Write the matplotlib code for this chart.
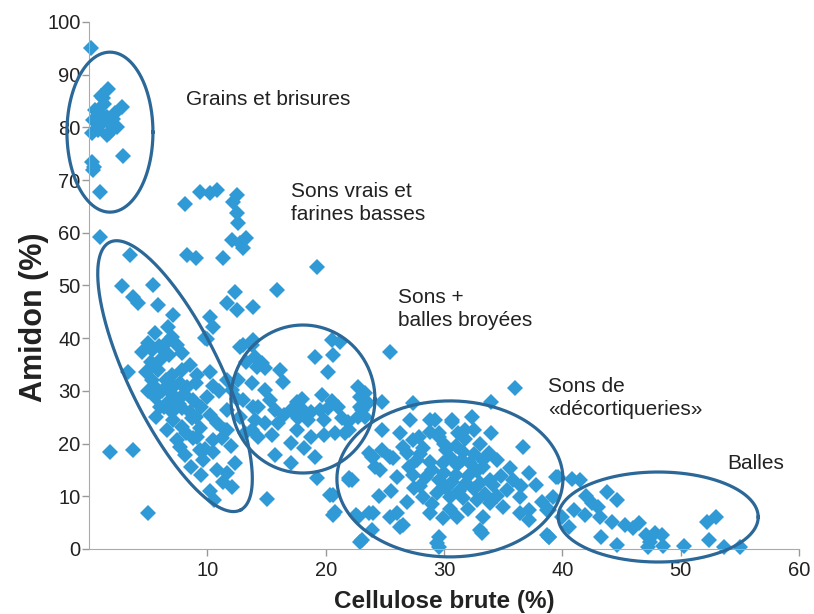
import numpy as np
import matplotlib
matplotlib.use("Agg")
import matplotlib.pyplot as plt

plt.rcParams['font.family'] = ['Liberation Sans', 'DejaVu Sans']

# --- data (cellulose %, amidon %) ---
grains_x = [0.2, 1.6, 1.2, 2.8, 0.5, 0.9, 1.5, 0.3, 1.1, 1.9, 2.4, 0.25, 1.5, 2.9, 0.25, 0.3, 0.9,
            1.3, 0.8, 2.0, 1.7, 0.4, 1.0, 2.2]
grains_y = [95.0, 87.3, 85.6, 83.9, 83.3, 82.7, 82.0, 81.4, 80.8, 80.5, 80.1, 78.9, 78.6, 74.6, 73.4, 71.9, 67.7,
            84.5, 79.5, 81.5, 79.0, 72.5, 86.0, 82.8]

scatter_x = [8.1, 9.4, 10.2, 10.8, 12.5, 12.2, 12.5, 12.6, 0.9, 12.1, 12.8, 13.3, 13.0, 3.5, 8.3, 9.0, 11.3,
             2.8, 5.4, 3.7, 4.1, 5.8, 12.3, 11.7, 12.5, 13.9, 7.1, 10.2, 10.5, 6.7, 9.8, 15.9, 19.3, 25.4]
scatter_y = [65.5, 67.7, 67.5, 68.1, 67.2, 65.8, 63.8, 61.9, 59.2, 58.6, 58.1, 59.0, 57.1, 55.8, 55.8, 55.2, 55.2,
             49.9, 50.1, 47.8, 46.7, 46.3, 48.8, 46.7, 45.4, 45.9, 44.4, 44.0, 42.1, 42.1, 40.0, 49.1, 53.5, 37.4]

sons_x = [10.0, 5.6, 4.5, 5.3, 6.2, 7.4, 7.9, 6.8, 6.0, 5.2, 3.3, 5.8, 7.0, 7.9, 9.1, 5.3, 7.7, 6.6, 8.3,
          5.6, 7.1, 8.8, 10.0, 6.3, 7.9, 10.2, 5.7, 7.1, 8.7, 6.6, 7.9, 9.4, 11.5, 7.4, 9.1, 10.5, 7.7,
          9.4, 8.1, 9.6, 1.8, 3.7, 10.8, 11.7, 12.3, 9.5, 12.1, 10.6, 5.0, 15.0,
          6.5, 7.2, 8.0, 6.8, 7.6, 8.5, 9.0, 6.2, 5.5, 9.5, 8.2, 8.8, 6.0, 7.0, 9.8, 10.5, 5.9, 6.6,
          7.0, 5.0, 4.8, 5.0, 10.8, 11.2, 12.0, 8.5, 9.0, 10.5, 11.0, 10.2,
          11.7, 12.1, 11.7, 11.7, 12.8, 13.8, 13.3, 14.2, 12.6, 13.0, 13.9, 13.8,
          11.3, 10.2, 8.6, 12.8, 12.5]
sons_y = [39.8, 41.0, 37.4, 37.8, 38.1, 38.7, 37.2, 36.8, 35.9, 35.5, 33.6, 34.0, 33.0, 34.0, 33.0, 32.1,
          31.5, 30.6, 30.7, 28.8, 29.2, 28.3, 28.8, 26.9, 26.8, 25.4, 25.0, 24.5, 24.9, 22.6, 23.1, 23.0,
          22.6, 20.7, 21.3, 20.7, 19.4, 18.8, 17.8, 16.9, 18.4, 18.8, 15.0, 14.4, 16.3, 14.0, 11.8, 9.3,
          6.8, 9.5,
          32.0, 31.0, 29.5, 28.0, 27.5, 26.0, 25.0, 30.0, 31.0, 27.0, 22.0, 21.0, 27.0, 26.0, 19.0, 18.5,
          38.5, 39.3, 40.2, 39.0, 33.5, 30.0, 24.0, 21.0, 19.5, 35.0, 31.5, 31.0, 30.0, 33.5,
          32.1, 30.2, 26.4, 22.6, 38.3, 38.7, 35.5, 34.5, 32.1, 28.3, 26.9, 22.6,
          12.8, 11.0, 15.5, 25.0, 28.5]

broyees_x = [13.0, 13.9, 14.0, 14.6, 14.9, 13.8, 16.1, 16.4, 19.1, 20.6, 20.2, 20.5, 21.2, 14.9, 15.3,
             14.3, 15.7, 14.0, 14.9, 16.0, 19.7, 17.6, 17.1, 18.1, 18.8, 19.5, 20.2, 21.0, 17.7, 18.5,
             19.9, 21.4, 21.9, 22.7, 23.3, 22.9, 23.6, 22.7, 23.3, 17.6, 18.8, 19.9, 20.8, 21.6, 17.1,
             18.2, 19.1, 15.7, 17.1, 15.5, 14.3, 13.2, 23.9, 24.2, 19.3, 20.4, 20.8, 22.2, 16.5, 18.0,
             20.5, 22.0]
broyees_y = [38.7, 39.7, 36.4, 35.3, 34.3, 31.5, 34.0, 31.7, 36.4, 36.8, 33.6, 39.7, 39.3, 30.2, 28.3,
             26.9, 26.4, 24.5, 23.9, 23.9, 29.2, 27.9, 26.4, 26.4, 26.0, 26.4, 26.8, 26.9, 24.9, 24.5,
             24.5, 24.9, 24.1, 30.7, 29.6, 26.9, 27.7, 25.0, 25.0, 22.6, 21.3, 21.6, 22.0, 22.0, 20.1,
             19.2, 17.5, 17.8, 16.3, 21.6, 21.3, 22.0, 17.5, 15.6, 13.5, 10.2, 7.0, 13.1, 25.5, 28.5,
             28.0, 22.5]

decort_x = [36.0, 34.0, 32.4, 36.7, 29.2, 30.7, 28.8, 31.2, 29.6, 27.4, 26.5, 28.2, 30.2, 31.6, 24.8,
            24.0, 25.7, 27.7, 28.8, 29.9, 31.1, 32.2, 33.3, 34.5, 35.6, 37.2, 37.8, 39.5, 22.0, 24.6,
            26.0, 27.4, 28.5, 29.6, 30.7, 31.9, 33.0, 34.1, 35.3, 36.4, 38.3, 38.9, 37.2, 26.9, 28.2,
            29.4, 30.5, 31.6, 32.8, 33.9, 35.0, 26.0, 23.7, 22.6, 28.8, 29.9, 31.1, 33.3, 26.5, 29.6,
            29.4, 33.2, 22.9, 38.7, 20.6, 20.6,
            22.9, 23.1, 24.8, 27.4, 27.1, 28.8, 26.3, 27.9, 29.6, 24.8, 23.7, 25.4, 26.9, 22.0, 30.7,
            31.8, 33.3, 33.9, 36.4, 37.2, 38.9, 33.0, 40.0, 22.7, 24.0, 25.4, 26.3, 23.9, 23.1, 29.6,
            30.0, 31.0, 32.0, 32.8, 31.5, 30.5, 29.0, 30.2, 31.3, 32.5, 33.5, 34.5, 30.0, 31.0, 32.5,
            33.8, 28.0, 27.0, 28.0, 29.0, 34.8, 35.8, 36.5, 32.0, 30.5, 27.5, 25.5, 24.5, 31.8, 33.0,
            34.0, 32.5]
decort_y = [30.6, 27.9, 25.0, 19.4, 24.5, 24.1, 22.2, 22.0, 21.3, 20.7, 19.4, 19.2, 18.8, 18.4, 18.8,
            17.5, 17.3, 16.9, 16.5, 16.3, 15.9, 16.3, 15.6, 16.9, 15.4, 14.4, 12.1, 13.7, 13.5, 15.0,
            13.7, 14.0, 13.7, 13.1, 12.7, 12.5, 12.5, 12.1, 11.2, 9.9, 8.9, 7.4, 7.4, 8.9, 9.9,
            10.6, 9.9, 9.7, 9.3, 8.7, 8.0, 6.8, 6.8, 6.5, 6.8, 5.9, 6.1, 6.1, 4.6, 2.3,
            1.1, 3.0, 1.3, 2.7, 6.5, 10.2,
            28.8, 26.4, 27.9, 27.7, 24.5, 24.5, 22.0, 21.3, 22.0, 22.6, 18.2, 17.5, 18.2, 13.1, 24.5,
            22.6, 16.9, 13.1, 6.8, 5.5, 2.3, 3.6, 6.1, 6.1, 6.8, 6.1, 4.2, 3.6, 1.7, 0.3,
            14.5, 14.0, 13.8, 14.8, 16.8, 17.5, 15.0, 11.5, 11.0, 11.3, 10.5, 10.0, 20.0, 19.5, 18.0,
            18.2, 18.0, 15.5, 12.0, 8.5, 13.8, 13.0, 12.0, 7.5, 7.5, 11.5, 11.0, 10.0, 20.8, 20.0,
            22.0, 22.5]

balles_x = [39.6, 40.8, 41.5, 43.8, 44.6, 42.5, 41.0, 41.9, 43.2, 44.2, 45.3, 46.5, 46.0, 40.6, 43.3,
            44.6, 47.1, 47.8, 48.4, 47.4, 47.2, 48.5, 50.3, 52.2, 53.0, 52.4, 53.7, 55.0, 38.9, 39.2,
            38.7, 43.0, 42.0]
balles_y = [13.7, 13.3, 13.1, 10.8, 9.3, 8.7, 7.4, 6.5, 6.1, 5.1, 4.6, 4.9, 4.0, 4.2, 2.3,
            0.8, 2.7, 3.0, 2.7, 1.3, 0.3, 0.6, 0.6, 5.1, 6.1, 1.7, 0.3, 0.3, 2.3, 9.9,
            7.4, 8.0, 10.0]

# group ellipses: centre (data), semi-axes (pixels), angle (deg)
ell_cx = [1.77, 7.27, 18.08, 30.5, 48.1]
ell_cy = [79.1, 32.8, 28.46, 13.3, 6.07]
ell_a = [43, 149, 72, 113, 100]
ell_b = [80, 46, 74, 78, 45]
ell_ang = [0, -64, 0, 0, 0]

labels = ["Grains et brisures", "Sons vrais et\nfarines basses", "Sons +\nballes broyées",
          "Sons de\n«décortiqueries»", "Balles"]
label_x = [8.2, 17.1, 26.1, 38.8, 53.9]
label_y = [85.2, 65.7, 45.5, 28.6, 16.3]

point_col = '#2f9ad5'
ring_col = '#2b6898'

fig = plt.figure(figsize=(8.14, 6.14), dpi=100)
ax = fig.add_axes([89 / 814, 65 / 614, 710 / 814, 527 / 614])

all_x = grains_x + scatter_x + sons_x + broyees_x + decort_x + balles_x
all_y = grains_y + scatter_y + sons_y + broyees_y + decort_y + balles_y
ax.plot(all_x, all_y, 'D', color=point_col, markersize=7.8, markeredgewidth=0, zorder=2, clip_on=False)

ax.set_xlim(0, 60)
ax.set_ylim(0, 100)

# px per data unit
sx = ax.bbox.width / 60
sy = ax.bbox.height / 100
t = np.linspace(0, 2 * np.pi, 300)
for cx, cy, a, b, ang in zip(ell_cx, ell_cy, ell_a, ell_b, ell_ang):
    th = np.radians(ang)
    dx = a * np.cos(t) * np.cos(th) - b * np.sin(t) * np.sin(th)
    dy = a * np.cos(t) * np.sin(th) + b * np.sin(t) * np.cos(th)
    ax.plot(cx + dx / sx, cy + dy / sy, color=ring_col, lw=2.3, zorder=3, clip_on=False)

for txt, x, y in zip(labels, label_x, label_y):
    ax.text(x, y, txt, fontsize=15, color='#222222', va='center', ha='left', linespacing=1.25)

ax.set_xticks([10, 20, 30, 40, 50, 60])
ax.set_yticks(range(0, 101, 10))
ax.tick_params(labelsize=14.5, colors='#999999', labelcolor='#222222', length=5, width=1)
ax.tick_params(axis='y', pad=1)
for s in ['top', 'right']:
    ax.spines[s].set_visible(False)
for s in ['left', 'bottom']:
    ax.spines[s].set_color('#aaaaaa')

ax.set_xlabel('Cellulose brute (%)', fontsize=17.5, fontweight='bold', color='#222222')
ax.xaxis.set_label_coords(0.5, -0.077)
ax.set_ylabel('Amidon (%)', fontsize=22, fontweight='bold', color='#222222')
ax.yaxis.set_label_coords(-0.056, 0.44)

fig.savefig('out.png', dpi=100)
